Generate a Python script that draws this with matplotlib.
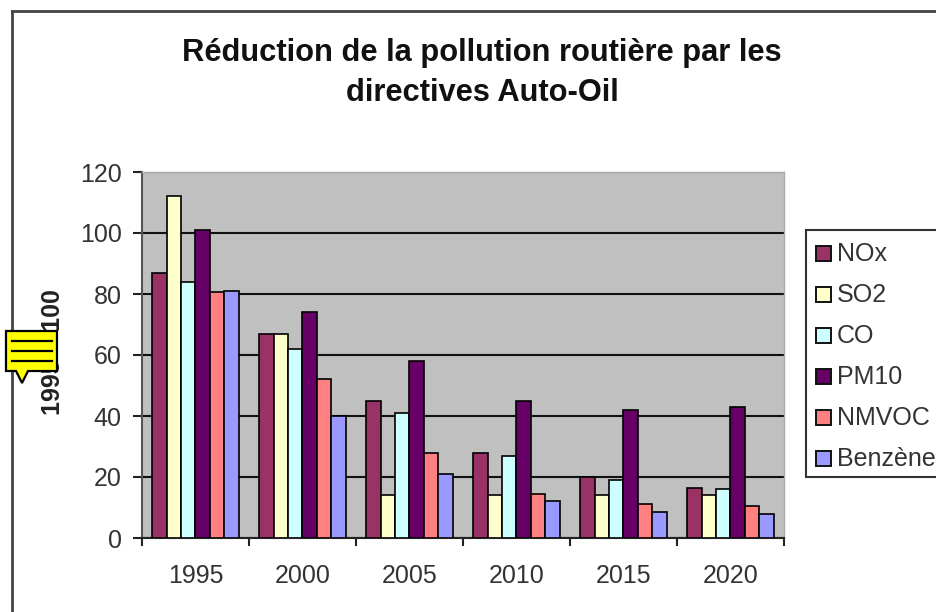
import numpy as np
import matplotlib
matplotlib.use('Agg')
from matplotlib import pyplot as plt
from matplotlib.patches import Polygon, Rectangle
from matplotlib.lines import Line2D

years = ['1995', '2000', '2005', '2010', '2015', '2020']
nox = [87, 67, 45, 28, 20, 16.5]
so2 = [112, 67, 14, 14, 14, 14]
co = [84, 62, 41, 27, 19, 16]
pm10 = [101, 74, 58, 45, 42, 43]
nmvoc = [80.5, 52, 28, 14.5, 11, 10.5]
benzene = [81, 40, 21, 12, 8.5, 8]

series = [nox, so2, co, pm10, nmvoc, benzene]
names = ['NOx', 'SO2', 'CO', 'PM10', 'NMVOC', 'Benzène']
colors = ['#993366', '#FFFFCC', '#CCFFFF', '#660066', '#FF8080', '#9999FF']

plt.rcParams['font.family'] = ['Liberation Sans', 'DejaVu Sans']

W, H = 937, 612
fig = plt.figure(figsize=(W / 100, H / 100), dpi=100)

# plot area placed in pixels
ax = fig.add_axes([142 / W, 1 - 538 / H, 642 / W, 366 / H])
ax.set_facecolor('#C0C0C0')
ax.set_axisbelow(True)

x = np.arange(len(years))
bar_w = 0.135
for i, vals in enumerate(series):
    ax.bar(x + (i - 2.5) * bar_w, vals, bar_w, color=colors[i],
           edgecolor='black', linewidth=1.2, label=names[i], zorder=3)

ax.set_xlim(-0.5, 5.5)
ax.set_ylim(0, 120)
ax.set_yticks(range(0, 121, 20))
ax.grid(axis='y', color='#111111', linewidth=1.5, zorder=1)

# ticks sit between the groups, labels in the middle
ax.set_xticks(np.arange(-0.5, 6, 1))
ax.set_xticklabels([])
ax.set_xticks(x, minor=True)
ax.set_xticklabels(years, minor=True)
ax.tick_params(axis='x', which='major', length=6, width=1.5, color='#222222')
ax.tick_params(axis='x', which='minor', length=0, pad=19,
               labelsize=18, labelcolor='#333333')
ax.tick_params(axis='y', length=6.5, width=1.5, color='#222222', pad=8,
               labelsize=18, labelcolor='#333333')

for s in ['top', 'right']:
    ax.spines[s].set_color('#AAAAAA')
    ax.spines[s].set_linewidth(1)
ax.spines['left'].set_color('#555555')
ax.spines['left'].set_linewidth(1.5)
ax.spines['bottom'].set_color('#222222')
ax.spines['bottom'].set_linewidth(1.5)

fig.text(482 / W, 1 - 73 / H, 'Réduction de la pollution routière par les\ndirectives Auto-Oil',
         ha='center', va='center', fontsize=22.2, fontweight='bold',
         color='#111111', linespacing=1.4)

fig.text(53 / W, 1 - 352 / H, '1995 = 100', rotation=90, ha='center', va='center',
         fontsize=18, fontweight='bold', color='#222222')

# outer chart frame runs off the right and bottom of the crop
fig.add_artist(Line2D([12 / W, 12 / W], [0, 1 - 11 / H], color='#444444', linewidth=2))
fig.add_artist(Line2D([12 / W, 1], [1 - 11 / H, 1 - 11 / H], color='#444444', linewidth=2))

# legend box, cut by the right edge
fig.add_artist(Rectangle((806 / W, 1 - 477 / H), 150 / W, 247 / H, transform=fig.transFigure,
                         facecolor='white', edgecolor='#333333', linewidth=1.5))
for i, name in enumerate(names):
    y_px = 254 + i * 41
    fig.add_artist(Rectangle((816 / W, 1 - (y_px + 7) / H), 15 / W, 15 / H,
                             transform=fig.transFigure, facecolor=colors[i],
                             edgecolor='#111111', linewidth=1.4))
    fig.text(837 / W, 1 - y_px / H, name, ha='left', va='center',
             fontsize=18, color='#333333')

# yellow comment marker over the axis title
fig.add_artist(Polygon(np.array([[6, 331], [57, 331], [57, 371], [28, 371], [22, 383],
                                 [16, 371], [6, 371]]) / [W, H] * [1, -1] + [0, 1],
                       closed=True, transform=fig.transFigure, facecolor='#FFFF00',
                       edgecolor='black', linewidth=1.6, zorder=5))
for y_px in [341, 351, 361]:
    fig.add_artist(Line2D([12 / W, 52 / W], [1 - y_px / H, 1 - y_px / H], color='black',
                          linewidth=1.6, zorder=6))

fig.savefig('out.png', dpi=100)
